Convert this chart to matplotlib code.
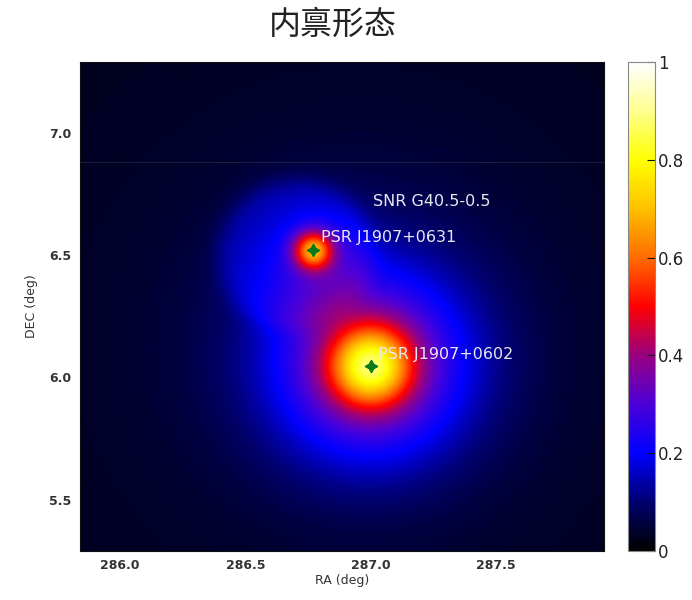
import numpy as np
import matplotlib
matplotlib.use("Agg")
import matplotlib.pyplot as plt
from matplotlib.colors import LinearSegmentedColormap

plt.rcParams['font.family'] = ['Noto Sans CJK SC', 'DejaVu Sans']

# ---- data ----
ra_range = [285.84, 287.93]
dec_range = [5.29, 7.29]
ra_ticks = [286.0, 286.5, 287.0, 287.5]
ra_ticklabels = ["286.0", "286.5", "287.0", "287.5"]
dec_ticks = [5.5, 6.0, 6.5, 7.0]
dec_ticklabels = ["5.5", "6.0", "6.5", "7.0"]
cbar_ticks = [0, 0.2, 0.4, 0.6, 0.8, 1]
cbar_ticklabels = ["0", "0.2", "0.4", "0.6", "0.8", "1"]

# gaussian components: RA, DEC, amplitude, sigma (deg)
comp_ra = [287.00, 287.00, 286.77, 286.77, 286.95]
comp_dec = [6.045, 6.045, 6.52, 6.52, 6.15]
comp_amp = [0.46, 0.33, 0.45, 0.05, 0.07]
comp_sigma = [0.11, 0.265, 0.055, 0.15, 0.50]
# SNR disk: RA, DEC, radius, amplitude
snr_ra, snr_dec, snr_radius, snr_amp = 286.70, 6.50, 0.31, 0.08
baseline = 0.03

pulsar_names = ["PSR J1907+0631", "PSR J1907+0602"]
pulsar_ra = [286.77, 287.00]
pulsar_dec = [6.52, 6.045]
snr_label = "SNR G40.5-0.5"

# ---- build map ----
ra = np.linspace(ra_range[0], ra_range[1], 600)
dec = np.linspace(dec_range[0], dec_range[1], 600)
RA, DEC = np.meshgrid(ra, dec)
img = np.full_like(RA, baseline)
for r0, d0, a, s in zip(comp_ra, comp_dec, comp_amp, comp_sigma):
    img += a * np.exp(-((RA - r0) ** 2 + (DEC - d0) ** 2) / (2 * s ** 2))
rr = np.hypot(RA - snr_ra, DEC - snr_dec)
img += snr_amp / (1 + np.exp((rr - snr_radius) / 0.025))
img = np.clip(img, 0, 1)

cmap = LinearSegmentedColormap.from_list("intr", [
    (0.0, (0, 0, 0)),
    (0.1, (0, 0, 0.45)),
    (0.2, (0, 0, 1.0)),
    (0.3, (0.3, 0, 0.85)),
    (0.4, (0.6, 0, 0.5)),
    (0.5, (1.0, 0, 0)),
    (0.6, (1.0, 0.42, 0)),
    (0.7, (1.0, 0.75, 0)),
    (0.8, (1.0, 1.0, 0)),
    (0.9, (1.0, 1.0, 0.55)),
    (1.0, (1.0, 1.0, 1.0)),
])

fig = plt.figure(figsize=(6.92, 6.0), dpi=100)
ax = fig.add_axes([80 / 692, 49 / 600, 524 / 692, 489 / 600])
im = ax.imshow(img, origin="lower", extent=[ra_range[0], ra_range[1], dec_range[0], dec_range[1]],
               cmap=cmap, vmin=0, vmax=1, aspect="auto", interpolation="bilinear")
ax.axhline(6.88, color="#2a2a45", lw=0.8, alpha=0.7)

ax.plot(pulsar_ra, pulsar_dec, linestyle="none", marker=(4, 1, 0), markersize=9,
        color="#0a7a1a", markeredgecolor="#0a7a1a")
ax.text(pulsar_ra[0] + 0.03, pulsar_dec[0] + 0.02, pulsar_names[0], color="#e8e8f0",
        fontsize=11.5, ha="left", va="bottom", family="DejaVu Sans")
ax.text(pulsar_ra[1] + 0.03, pulsar_dec[1] + 0.02, pulsar_names[1], color="#e8e8f0",
        fontsize=11.5, ha="left", va="bottom", family="DejaVu Sans")
ax.text(287.01, 6.72, snr_label, color="#e8e8f0", fontsize=11.5, ha="left", va="center",
        family="DejaVu Sans")

ax.set_xlim(ra_range)
ax.set_ylim(dec_range)
ax.set_xticks(ra_ticks)
ax.set_xticklabels(ra_ticklabels, fontsize=9, fontweight="bold", color="#333333",
                   family="DejaVu Sans")
ax.set_yticks(dec_ticks)
ax.set_yticklabels(dec_ticklabels, fontsize=9, fontweight="bold", color="#333333",
                   family="DejaVu Sans")
ax.tick_params(length=0, pad=6)
ax.set_xlabel("RA (deg)", fontsize=9, color="#333333", labelpad=1, family="DejaVu Sans")
ax.set_ylabel("DEC (deg)", fontsize=9, color="#333333", labelpad=8, family="DejaVu Sans")
for sp in ax.spines.values():
    sp.set_color("#111111")

fig.text(333 / 692, 1 - 25 / 600, "内禀形态", fontsize=23, ha="center", va="center", color="#222222")

cax = fig.add_axes([628 / 692, 49 / 600, 27 / 692, 489 / 600])
cb = fig.colorbar(im, cax=cax, ticks=cbar_ticks)
cb.set_ticklabels(cbar_ticklabels)
cax.tick_params(labelsize=12, length=6, direction="in", color="#111111", pad=2,
                labelcolor="#222222")
for t in cax.get_yticklabels():
    t.set_family("DejaVu Sans")
cb.outline.set_edgecolor("#888888")

fig.savefig("out.png", dpi=100)
